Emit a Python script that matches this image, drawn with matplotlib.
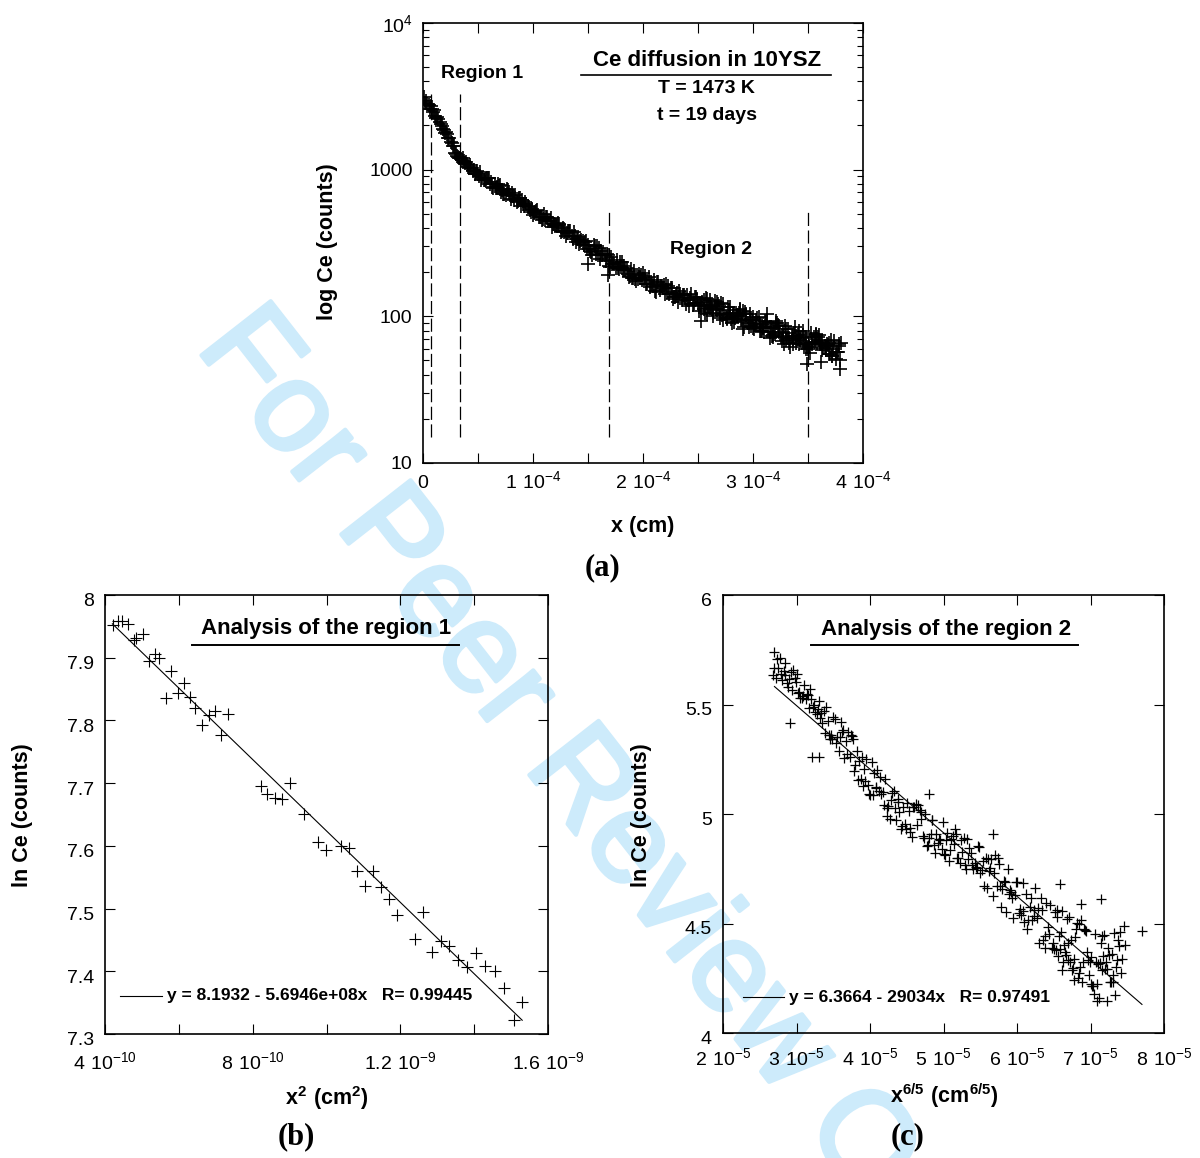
import numpy as np
import matplotlib
matplotlib.use("Agg")
import matplotlib.pyplot as plt
import matplotlib.ticker as ticker
import matplotlib.transforms as mtransforms
import matplotlib.patheffects as pe

plt.rcParams['font.family'] = ['Liberation Sans', 'DejaVu Sans']

# ---------------- (a) Ce depth profile : depth in um (= 1e-4 cm), counts
depth_um = [
    0.02, 0.04, 0.06, 0.08, 0.10, 0.12, 0.14, 0.16, 0.18, 0.20,
    0.22, 0.24, 0.26, 0.28, 0.30, 0.32, 0.34, 0.36, 0.38, 0.40,
    0.42, 0.44, 0.46, 0.48, 0.50, 0.52, 0.54, 0.56, 0.58, 0.60,
    0.62, 0.64, 0.66, 0.68, 0.70, 0.72, 0.74, 0.76, 0.78, 0.80,
    0.82, 0.84, 0.86, 0.88, 0.90, 0.92, 0.94, 0.96, 0.98, 1.00,
    1.02, 1.04, 1.06, 1.08, 1.10, 1.12, 1.14, 1.16, 1.18, 1.20,
    1.22, 1.24, 1.26, 1.28, 1.30, 1.32, 1.34, 1.36, 1.38, 1.40,
    1.42, 1.44, 1.46, 1.48, 1.50, 1.52, 1.54, 1.56, 1.58, 1.60,
    1.62, 1.64, 1.66, 1.68, 1.70, 1.72, 1.74, 1.76, 1.78, 1.80,
    1.82, 1.84, 1.86, 1.88, 1.90, 1.92, 1.94, 1.96, 1.98, 2.00,
    2.02, 2.04, 2.06, 2.08, 2.10, 2.12, 2.14, 2.16, 2.18, 2.20,
    2.22, 2.24, 2.26, 2.28, 2.30, 2.32, 2.34, 2.36, 2.38, 2.40,
    2.42, 2.44, 2.46, 2.48, 2.50, 2.52, 2.54, 2.56, 2.58, 2.60,
    2.62, 2.64, 2.66, 2.68, 2.70, 2.72, 2.74, 2.76, 2.78, 2.80,
    2.82, 2.84, 2.86, 2.88, 2.90, 2.92, 2.94, 2.96, 2.98, 3.00,
    3.02, 3.04, 3.06, 3.08, 3.10, 3.12, 3.14, 3.16, 3.18, 3.20,
    3.22, 3.24, 3.26, 3.28, 3.30, 3.32, 3.34, 3.36, 3.38, 3.40,
    3.42, 3.44, 3.46, 3.48, 3.50, 3.52, 3.54, 3.56, 3.58, 3.60,
    3.62, 3.64, 3.66, 3.68, 3.70, 3.72, 3.74, 3.76, 3.78, 3.80,
]
ce_counts = [
    2839, 2799, 2607, 2580, 2548, 2265, 2210, 2056, 1889, 1787,
    1736, 1652, 1525, 1452, 1283, 1226, 1192, 1198, 1112, 1084,
    1021, 1031, 988, 953, 928, 961, 878, 845, 880, 880,
    819, 748, 753, 798, 780, 724, 680, 739, 703, 634,
    663, 673, 608, 641, 625, 565, 583, 555, 513, 494,
    518, 527, 476, 452, 498, 475, 447, 466, 427, 417,
    415, 427, 382, 378, 355, 382, 380, 338, 355, 338,
    312, 332, 307, 325, 308, 280, 262, 302, 300, 292,
    280, 265, 238, 263, 218, 228, 228, 242, 210, 218,
    206, 206, 195, 187, 183, 204, 173, 193, 192, 196,
    189, 165, 159, 166, 177, 147, 171, 162, 157, 141,
    146, 141, 155, 136, 137, 126, 141, 140, 133, 139,
    118, 141, 123, 135, 123, 120, 126, 105, 132, 118,
    116, 100, 113, 121, 103, 102, 103, 96, 111, 96,
    103, 97, 100, 110, 96, 84, 104, 84, 86, 99,
    89, 97, 80, 79, 78, 91, 83, 84, 72, 76,
    90, 78, 68, 65, 69, 82, 62, 65, 85, 68,
    80, 71, 64, 60, 60, 56, 67, 67, 66, 74,
    66, 61, 61, 64, 55, 54, 68, 57, 65, 66,
]
# interleaved readings between the points above
depth2_um = [
    0.01, 0.03, 0.05, 0.07, 0.09, 0.11, 0.13, 0.15, 0.17, 0.19,
    0.21, 0.23, 0.25, 0.27, 0.29, 0.31, 0.33, 0.35, 0.37, 0.39,
    0.41, 0.43, 0.45, 0.47, 0.49, 0.51, 0.53, 0.55, 0.57, 0.59,
    0.61, 0.63, 0.65, 0.67, 0.69, 0.71, 0.73, 0.75, 0.77, 0.79,
    0.81, 0.83, 0.85, 0.87, 0.89, 0.91, 0.93, 0.95, 0.97, 0.99,
    1.01, 1.03, 1.05, 1.07, 1.09, 1.11, 1.13, 1.15, 1.17, 1.19,
    1.21, 1.23, 1.25, 1.27, 1.29, 1.31, 1.33, 1.35, 1.37, 1.39,
    1.41, 1.43, 1.45, 1.47, 1.49, 1.51, 1.53, 1.55, 1.57, 1.59,
    1.61, 1.63, 1.65, 1.67, 1.69, 1.71, 1.73, 1.75, 1.77, 1.79,
    1.81, 1.83, 1.85, 1.87, 1.89, 1.91, 1.93, 1.95, 1.97, 1.99,
    2.01, 2.03, 2.05, 2.07, 2.09, 2.11, 2.13, 2.15, 2.17, 2.19,
    2.21, 2.23, 2.25, 2.27, 2.29, 2.31, 2.33, 2.35, 2.37, 2.39,
    2.41, 2.43, 2.45, 2.47, 2.49, 2.51, 2.53, 2.55, 2.57, 2.59,
    2.61, 2.63, 2.65, 2.67, 2.69, 2.71, 2.73, 2.75, 2.77, 2.79,
    2.81, 2.83, 2.85, 2.87, 2.89, 2.91, 2.93, 2.95, 2.97, 2.99,
    3.01, 3.03, 3.05, 3.07, 3.09, 3.11, 3.13, 3.15, 3.17, 3.19,
    3.21, 3.23, 3.25, 3.27, 3.29, 3.31, 3.33, 3.35, 3.37, 3.39,
    3.41, 3.43, 3.45, 3.47, 3.49, 3.51, 3.53, 3.55, 3.57, 3.59,
    3.61, 3.63, 3.65, 3.67, 3.69, 3.71, 3.73, 3.75, 3.77, 3.79,
]
ce_counts2 = [
    3110, 2959, 2739, 2735, 2455, 2331, 2278, 2107, 1973, 1871,
    1801, 1643, 1546, 1450, 1294, 1237, 1193, 1159, 1144, 1127,
    1043, 1072, 974, 940, 974, 898, 853, 843, 857, 881,
    795, 757, 794, 766, 779, 702, 687, 672, 721, 668,
    689, 622, 598, 642, 562, 580, 605, 562, 534, 536,
    503, 526, 475, 477, 460, 450, 476, 448, 409, 428,
    419, 432, 375, 399, 379, 371, 384, 352, 373, 323,
    347, 327, 327, 320, 288, 289, 276, 305, 264, 263,
    246, 262, 262, 265, 221, 254, 230, 212, 212, 233,
    233, 221, 212, 185, 209, 181, 179, 179, 183, 176,
    180, 166, 184, 167, 161, 148, 172, 150, 161, 164,
    165, 162, 156, 131, 135, 144, 148, 129, 139, 121,
    130, 133, 119, 135, 131, 108, 117, 112, 133, 119,
    114, 113, 127, 110, 118, 123, 95, 99, 115, 105,
    90, 92, 101, 105, 94, 108, 107, 90, 104, 95,
    82, 95, 99, 79, 85, 93, 92, 78, 73, 83,
    93, 87, 72, 73, 86, 71, 71, 73, 77, 66,
    75, 69, 79, 66, 62, 64, 77, 72, 76, 72,
    65, 59, 63, 65, 55, 69, 60, 51, 57, 50,
]
depth_tail_um = [
    2.55, 2.58, 2.61, 2.64, 2.67, 2.70, 2.73, 2.76, 2.79, 2.82,
    2.85, 2.88, 2.91, 2.94, 2.97, 3.00, 3.03, 3.06, 3.09, 3.12,
    3.15, 3.18, 3.21, 3.24, 3.27, 3.30, 3.33, 3.36, 3.39, 3.42,
    3.45, 3.48, 3.51, 3.54, 3.57, 3.60, 3.63, 3.66, 3.69, 3.72,
    3.75, 3.78,
]
ce_tail = [
    130, 104, 130, 105, 125, 97, 121, 97, 116, 100,
    102, 113, 82, 93, 95, 83, 86, 89, 83, 89,
    71, 75, 90, 86, 77, 82, 66, 70, 73, 65,
    74, 72, 62, 65, 75, 69, 68, 63, 66, 54,
    57, 63,
]
depth_out_um = [1.50, 1.68, 2.53, 3.13, 3.49, 3.62, 3.79]
ce_out = [227, 192, 93, 104, 47, 49, 44]

# region boundaries (dashed lines)
bound_um = [0.075, 0.332, 1.692, 3.504]
bound_top = [3300, 3300, 515, 515]
bound_bottom = 15

# ---------------- (b) region 1 : x^2 in 1e-10 cm^2, ln Ce
x2_e10 = [
    4.21, 4.36, 4.47, 4.62, 4.78, 4.84, 5.03, 5.19, 5.35, 5.46,
    5.80, 5.65, 5.97, 6.14, 6.29, 6.45, 6.63, 6.81, 6.97, 7.15,
    7.32, 8.22, 8.39, 8.60, 8.79, 9.00, 9.38, 9.78, 9.98, 10.40,
    10.61, 10.83, 11.04, 11.27, 11.48, 11.70, 11.92, 12.39, 12.60, 12.86,
    13.10, 13.33, 13.57, 13.80, 14.06, 14.30, 14.55, 14.82, 15.07, 15.30,
]
ln_r1 = [
    7.952, 7.958, 7.959, 7.953, 7.928, 7.931, 7.937, 7.895, 7.906, 7.899,
    7.878, 7.835, 7.844, 7.859, 7.838, 7.819, 7.792, 7.809, 7.815, 7.777,
    7.810, 7.696, 7.682, 7.677, 7.674, 7.700, 7.650, 7.606, 7.594, 7.599,
    7.596, 7.560, 7.536, 7.560, 7.535, 7.515, 7.490, 7.451, 7.494, 7.431,
    7.448, 7.440, 7.418, 7.407, 7.429, 7.409, 7.400, 7.373, 7.323, 7.351,
]
fit1 = (8.1932, -5.6946e8)
fit1_range = (4.2e-10, 1.53e-9)

# ---------------- (c) region 2 : x^(6/5) in 1e-5 cm^(6/5), ln Ce
x65_e5 = [
    2.675, 2.700, 2.725, 2.750, 2.775, 2.800, 2.825, 2.850, 2.875, 2.900,
    2.925, 2.950, 2.975, 3.000, 3.025, 3.050, 3.075, 3.100, 3.125, 3.150,
    3.175, 3.200, 3.225, 3.250, 3.275, 3.300, 3.325, 3.350, 3.375, 3.400,
    3.425, 3.450, 3.475, 3.500, 3.525, 3.550, 3.575, 3.600, 3.625, 3.650,
    3.675, 3.700, 3.725, 3.750, 3.775, 3.800, 3.825, 3.850, 3.875, 3.900,
    3.925, 3.950, 3.975, 4.000, 4.025, 4.050, 4.075, 4.100, 4.125, 4.150,
    4.175, 4.200, 4.225, 4.250, 4.275, 4.300, 4.325, 4.350, 4.375, 4.400,
    4.425, 4.450, 4.475, 4.500, 4.525, 4.550, 4.575, 4.600, 4.625, 4.650,
    4.675, 4.700, 4.725, 4.750, 4.775, 4.800, 4.825, 4.850, 4.875, 4.900,
    4.925, 4.950, 4.975, 5.000, 5.025, 5.050, 5.075, 5.100, 5.125, 5.150,
    5.175, 5.200, 5.225, 5.250, 5.275, 5.300, 5.325, 5.350, 5.375, 5.400,
    5.425, 5.450, 5.475, 5.500, 5.525, 5.550, 5.575, 5.600, 5.625, 5.650,
    5.675, 5.700, 5.725, 5.750, 5.775, 5.800, 5.825, 5.850, 5.875, 5.900,
    5.925, 5.950, 5.975, 6.000, 6.025, 6.050, 6.075, 6.100, 6.125, 6.150,
    6.175, 6.200, 6.225, 6.250, 6.275, 6.300, 6.325, 6.350, 6.375, 6.400,
    6.425, 6.450, 6.475, 6.500, 6.525, 6.550, 6.575, 6.600, 6.625, 6.650,
    6.675, 6.700, 6.725, 6.750, 6.775, 6.800, 6.825, 6.850, 6.875, 6.900,
    6.925, 6.950, 6.975, 7.000, 7.025, 7.050, 7.075, 7.100, 7.125, 7.150,
    7.175, 7.200, 7.225, 7.250, 7.275, 7.300, 7.325, 7.350, 7.375, 7.400,
    7.425,
]
ln_r2 = [
    5.633, 5.668, 5.620, 5.666, 5.711, 5.610, 5.655, 5.634, 5.599, 5.618,
    5.650, 5.656, 5.621, 5.640, 5.551, 5.529, 5.532, 5.590, 5.527, 5.545,
    5.483, 5.527, 5.490, 5.468, 5.459, 5.517, 5.439, 5.415, 5.470, 5.487,
    5.423, 5.345, 5.361, 5.445, 5.434, 5.353, 5.289, 5.420, 5.373, 5.256,
    5.335, 5.377, 5.259, 5.355, 5.344, 5.226, 5.287, 5.241, 5.159, 5.130,
    5.208, 5.250, 5.134, 5.087, 5.236, 5.189, 5.125, 5.203, 5.104, 5.093,
    5.100, 5.160, 5.029, 5.038, 4.978, 5.094, 5.105, 4.973, 5.055, 5.011,
    4.933, 5.032, 4.954, 5.052, 5.012, 4.936, 4.895, 5.032, 5.045, 5.040,
    5.017, 4.977, 4.901, 5.002, 4.855, 4.893, 4.907, 4.972, 4.861, 4.909,
    4.868, 4.881, 4.841, 4.818, 4.813, 4.914, 4.785, 4.887, 4.900, 4.932,
    4.910, 4.799, 4.777, 4.826, 4.893, 4.747, 4.885, 4.845, 4.823, 4.748,
    4.777, 4.754, 4.853, 4.729, 4.746, 4.673, 4.799, 4.793, 4.738, 4.794,
    4.626, 4.815, 4.671, 4.771, 4.670, 4.659, 4.696, 4.555, 4.748, 4.651,
    4.644, 4.525, 4.629, 4.688, 4.547, 4.541, 4.557, 4.505, 4.633, 4.514,
    4.574, 4.517, 4.563, 4.663, 4.524, 4.410, 4.616, 4.424, 4.443, 4.596,
    4.484, 4.583, 4.390, 4.384, 4.377, 4.530, 4.444, 4.463, 4.323, 4.370,
    4.523, 4.410, 4.324, 4.290, 4.336, 4.475, 4.250, 4.274, 4.517, 4.323,
    4.470, 4.369, 4.266, 4.226, 4.217, 4.178, 4.325, 4.316, 4.318, 4.443,
    4.352, 4.291, 4.292, 4.357, 4.234, 4.235, 4.455, 4.301, 4.427, 4.460,
    4.336,
]
x65_mid_e5 = [
    2.6875, 2.7375, 2.7875, 2.8375, 2.8875, 2.9375, 2.9875, 3.0375, 3.0875, 3.1375,
    3.1875, 3.2375, 3.2875, 3.3375, 3.3875, 3.4375, 3.4875, 3.5375, 3.5875, 3.6375,
    3.6875, 3.7375, 3.7875, 3.8375, 3.8875, 3.9375, 3.9875, 4.0375, 4.0875, 4.1375,
    4.1875, 4.2375, 4.2875, 4.3375, 4.3875, 4.4375, 4.4875, 4.5375, 4.5875, 4.6375,
    4.6875, 4.7375, 4.7875, 4.8375, 4.8875, 4.9375, 4.9875, 5.0375, 5.0875, 5.1375,
    5.1875, 5.2375, 5.2875, 5.3375, 5.3875, 5.4375, 5.4875, 5.5375, 5.5875, 5.6375,
    5.6875, 5.7375, 5.7875, 5.8375, 5.8875, 5.9375, 5.9875, 6.0375, 6.0875, 6.1375,
    6.1875, 6.2375, 6.2875, 6.3375, 6.3875, 6.4375, 6.4875, 6.5375, 6.5875, 6.6375,
    6.6875, 6.7375, 6.7875, 6.8375, 6.8875, 6.9375, 6.9875, 7.0375, 7.0875, 7.1375,
    7.1875, 7.2375, 7.2875, 7.3375, 7.3875,
]
ln_r2_mid = [
    5.738, 5.710, 5.640, 5.691, 5.582, 5.566, 5.604, 5.559, 5.541, 5.550,
    5.571, 5.500, 5.482, 5.461, 5.372, 5.363, 5.342, 5.323, 5.354, 5.386,
    5.275, 5.360, 5.197, 5.157, 5.259, 5.150, 5.092, 5.088, 5.120, 5.169,
    5.041, 4.989, 5.063, 5.030, 5.068, 4.947, 4.932, 4.919, 5.032, 4.949,
    5.008, 4.891, 4.861, 4.975, 4.823, 4.884, 4.963, 4.882, 4.836, 4.863,
    4.801, 4.881, 4.767, 4.793, 4.768, 4.757, 4.850, 4.787, 4.663, 4.754,
    4.732, 4.798, 4.576, 4.692, 4.633, 4.618, 4.692, 4.567, 4.687, 4.473,
    4.616, 4.534, 4.573, 4.560, 4.387, 4.453, 4.413, 4.560, 4.386, 4.400,
    4.334, 4.426, 4.440, 4.496, 4.233, 4.466, 4.323, 4.213, 4.226, 4.411,
    4.446, 4.387, 4.359, 4.176, 4.397,
]
x65_tail_e5 = [
    6.5125, 6.5625, 6.6125, 6.6625, 6.7125, 6.7625, 6.8125, 6.8625, 6.9125, 6.9625,
    7.0125, 7.0625, 7.1125, 7.1625, 7.2125, 7.2625, 7.3125, 7.3625, 7.4125,
]
ln_r2_tail = [
    4.551, 4.351, 4.556, 4.355, 4.529, 4.298, 4.502, 4.302, 4.475, 4.332,
    4.347, 4.453, 4.161, 4.288, 4.324, 4.233, 4.267, 4.334, 4.273,
]
x65_out_e5 = [2.91, 3.21, 3.31, 4.80, 5.68, 6.59, 7.14, 6.87, 7.70, 7.45, 7.47, 6.61, 7.09, 7.22, 6.77]
ln_r2_out = [5.417, 5.26, 5.26, 5.093, 4.907, 4.679, 4.61, 4.59, 4.468, 4.49, 4.40, 4.29, 4.147, 4.147, 4.24]
fit2 = (6.3664, -29034)
fit2_range = (2.70e-5, 7.70e-5)


def style_axes(ax):
    ax.set_facecolor('none')
    for s in ax.spines.values():
        s.set_linewidth(1.2)
    ax.tick_params(which='both', direction='in', top=True, right=True,
                   width=0.8, labelsize=14)
    ax.tick_params(which='major', length=7)
    ax.tick_params(which='minor', length=4.5)


def shift_ylabels(ax, fig, dy_pt):
    off = mtransforms.ScaledTranslation(0, dy_pt / 72, fig.dpi_scale_trans)
    for lab in ax.get_yticklabels():
        lab.set_transform(lab.get_transform() + off)


fig = plt.figure(figsize=(12, 11.58), dpi=100)

# journal watermark
wm = fig.text(0.1625, 0.7003, 'For Peer Review Only', rotation=-52, rotation_mode='anchor',
              ha='left', va='baseline', fontsize=92, color='#cdebfb', zorder=-5)
wm.set_path_effects([pe.withStroke(linewidth=3, foreground='#cdebfb')])

# ================= (a)
ax = fig.add_axes([0.3525, 0.6002, 0.3667, 0.3800])
style_axes(ax)
mk = dict(ls='none', marker='+', color='k', ms=10.5, mew=1.2)
ax.plot(np.array(depth_um) * 1e-4, ce_counts, **mk)
ax.plot(np.array(depth2_um) * 1e-4, ce_counts2, **mk)
ax.plot(np.array(depth_tail_um) * 1e-4, ce_tail, **mk)
ax.plot(np.array(depth_out_um) * 1e-4, ce_out, **mk)
for xb, yt in zip(bound_um, bound_top):
    ax.plot([xb * 1e-4, xb * 1e-4], [bound_bottom, yt], color='k', lw=0.9,
            ls=(0, (10.5, 3.6)))

ax.set_yscale('log')
ax.set_xlim(0, 4e-4)
ax.set_ylim(10, 1e4)
ax.set_xticks([0, 1e-4, 2e-4, 3e-4, 4e-4],
              ['0', r'$\mathregular{1\ 10^{-4}}$', r'$\mathregular{2\ 10^{-4}}$',
               r'$\mathregular{3\ 10^{-4}}$', r'$\mathregular{4\ 10^{-4}}$'])
ax.xaxis.set_minor_locator(ticker.MultipleLocator(0.5e-4))
ax.set_yticks([10, 100, 1000, 1e4], ['10', '100', '1000', r'$\mathregular{10^{4}}$'])
ax.yaxis.set_minor_locator(ticker.LogLocator(base=10, subs=np.arange(2, 10)))
ax.yaxis.set_minor_formatter(ticker.NullFormatter())
ax.tick_params(axis='x', which='minor', length=7)
ax.tick_params(axis='x', pad=18)
ax.tick_params(axis='y', pad=7.5)
for lab in ax.get_xticklabels():
    lab.set_va('baseline')

ax.set_xlabel('x (cm)', fontsize=15.5, fontweight='bold', va='center')
ax.xaxis.set_label_coords(0.5, -0.145)
ax.set_ylabel('log Ce (counts)', fontsize=15.5, fontweight='bold', va='center')
ax.yaxis.set_label_coords(-0.216, 0.502)

ax.text(0.134, 0.884, 'Region 1', transform=ax.transAxes, ha='center', va='center',
        fontsize=14, fontweight='bold')
ax.text(0.654, 0.485, 'Region 2', transform=ax.transAxes, ha='center', va='center',
        fontsize=14, fontweight='bold')
ax.text(0.645, 0.915, 'Ce diffusion in 10YSZ', transform=ax.transAxes, ha='center',
        va='center', fontsize=16, fontweight='bold')
ax.plot([0.359, 0.927], [0.882, 0.882], transform=ax.transAxes, color='k', lw=1.2)
ax.text(0.645, 0.850, 'T = 1473 K', transform=ax.transAxes, ha='center', va='center',
        fontsize=14, fontweight='bold')
ax.text(0.645, 0.789, 't = 19 days', transform=ax.transAxes, ha='center', va='center',
        fontsize=14, fontweight='bold')

# ================= (b)
bx = fig.add_axes([0.0875, 0.1071, 0.3692, 0.3791])
style_axes(bx)
bx.plot(np.array(x2_e10) * 1e-10, ln_r1, ls='none', marker='+', color='k', ms=8.5, mew=0.8)
xf = np.array(fit1_range)
bx.plot(xf, fit1[0] + fit1[1] * xf, color='k', lw=0.8)
bx.set_xlim(4e-10, 1.6e-9)
bx.set_ylim(7.3, 8.0)
bx.set_xticks([4e-10, 8e-10, 1.2e-9, 1.6e-9],
              [r'$\mathregular{4\ 10^{-10}}$', r'$\mathregular{8\ 10^{-10}}$',
               r'$\mathregular{1.2\ 10^{-9}}$', r'$\mathregular{1.6\ 10^{-9}}$'])
bx.xaxis.set_minor_locator(ticker.FixedLocator([6e-10, 1.0e-9, 1.4e-9]))
bx.set_yticks([7.3, 7.4, 7.5, 7.6, 7.7, 7.8, 7.9, 8.0],
              ['7.3', '7.4', '7.5', '7.6', '7.7', '7.8', '7.9', '8'])
bx.tick_params(axis='x', which='minor', length=7)
bx.tick_params(axis='x', pad=25)
bx.tick_params(axis='y', pad=8)
for lab in bx.get_xticklabels():
    lab.set_va('baseline')
shift_ylabels(bx, fig, -3.6)
bx.set_xlabel(r'$\mathregular{x^{2}\ (cm^{2})}$', fontsize=15.5, fontweight='bold', va='center')
bx.xaxis.set_label_coords(0.501, -0.146)
bx.set_ylabel('ln Ce (counts)', fontsize=15.5, fontweight='bold', va='center')
bx.yaxis.set_label_coords(-0.187, 0.499)

bx.text(0.500, 0.923, 'Analysis of the region 1', transform=bx.transAxes, ha='center',
        va='center', fontsize=16, fontweight='bold')
bx.plot([0.197, 0.799], [0.887, 0.887], transform=bx.transAxes, color='k', lw=1.4)
bx.plot([0.033, 0.128], [0.0875, 0.0875], transform=bx.transAxes, color='k', lw=0.8)
bx.text(0.139, 0.0875, 'y = 8.1932 - 5.6946e+08x   R= 0.99445', transform=bx.transAxes,
        ha='left', va='center', fontsize=12.5, fontweight='bold')

# ================= (c)
cx = fig.add_axes([0.6025, 0.1079, 0.3675, 0.3782])
style_axes(cx)
mk2 = dict(ls='none', marker='+', color='k', ms=7, mew=0.9)
cx.plot(np.array(x65_e5) * 1e-5, ln_r2, **mk2)
cx.plot(np.array(x65_mid_e5) * 1e-5, ln_r2_mid, **mk2)
cx.plot(np.array(x65_tail_e5) * 1e-5, ln_r2_tail, **mk2)
cx.plot(np.array(x65_out_e5) * 1e-5, ln_r2_out, **mk2)
xf = np.array(fit2_range)
cx.plot(xf, fit2[0] + fit2[1] * xf, color='k', lw=0.8)
cx.set_xlim(2e-5, 8e-5)
cx.set_ylim(4, 6)
xt = [2e-5, 3e-5, 4e-5, 5e-5, 6e-5, 7e-5, 8e-5]
cx.set_xticks(xt, [r'$\mathregular{%d\ 10^{-5}}$' % (i + 2) for i in range(len(xt))])
cx.set_yticks([4, 4.5, 5, 5.5, 6], ['4', '4.5', '5', '5.5', '6'])
cx.tick_params(axis='x', pad=23)
cx.tick_params(axis='y', pad=8)
for lab in cx.get_xticklabels():
    lab.set_va('baseline')
shift_ylabels(cx, fig, -3.0)
cx.set_xlabel(r'$\mathregular{x^{6/5}\ (cm^{6/5})}$', fontsize=15.5, fontweight='bold', va='center')
cx.xaxis.set_label_coords(0.501, -0.142)
cx.set_ylabel('ln Ce (counts)', fontsize=15.5, fontweight='bold', va='center')
cx.yaxis.set_label_coords(-0.184, 0.498)

cx.text(0.505, 0.922, 'Analysis of the region 2', transform=cx.transAxes, ha='center',
        va='center', fontsize=16, fontweight='bold')
cx.plot([0.200, 0.804], [0.887, 0.887], transform=cx.transAxes, color='k', lw=1.4)
cx.plot([0.045, 0.139], [0.082, 0.082], transform=cx.transAxes, color='k', lw=0.8)
cx.text(0.150, 0.082, 'y = 6.3664 - 29034x   R= 0.97491', transform=cx.transAxes,
        ha='left', va='center', fontsize=12.5, fontweight='bold')

# panel letters
for px, py, lab in [(0.5017, 0.5095, '(a)'), (0.2467, 0.0185, '(b)'), (0.7567, 0.0185, '(c)')]:
    fig.text(px, py, lab, ha='center', va='center', fontsize=22, fontweight='bold',
             family='Liberation Serif')

fig.savefig('out.png', dpi=100)
